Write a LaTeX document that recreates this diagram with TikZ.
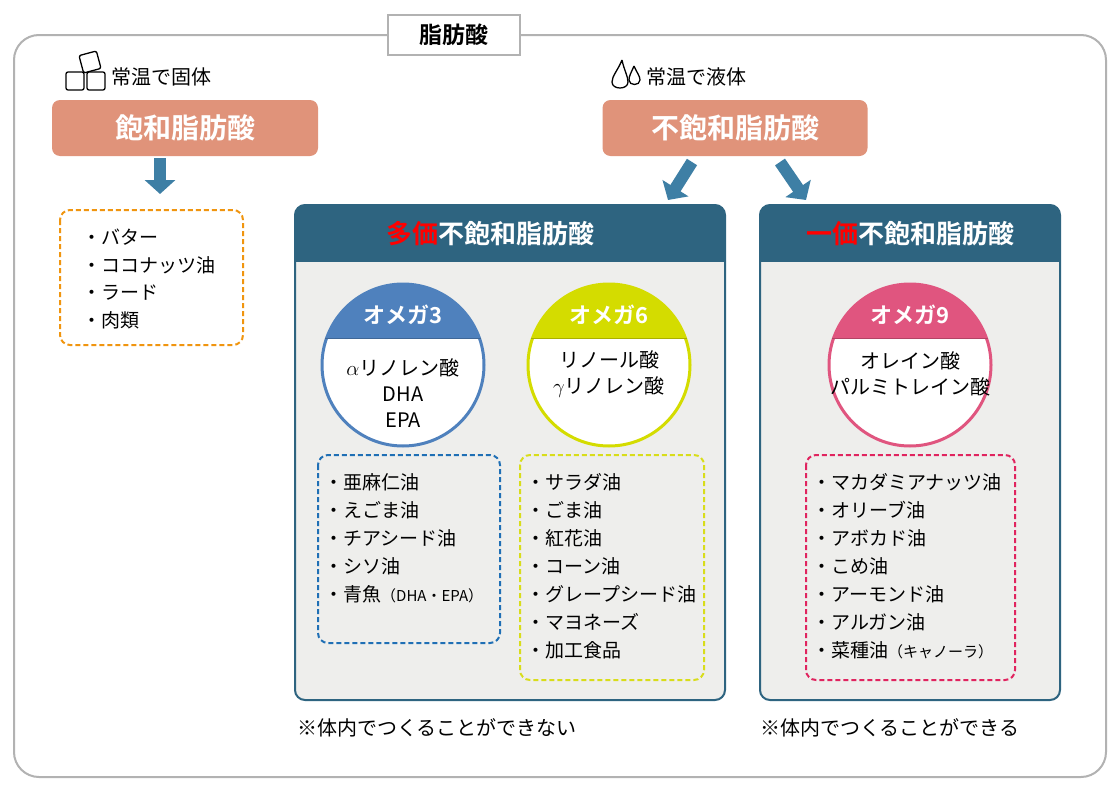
\documentclass[tikz,border=0pt]{standalone}
\usepackage{fontspec}
\setmainfont{Noto Sans CJK JP}
\newfontfamily\jpb{Noto Sans CJK JP Bold}
\usetikzlibrary{arrows.meta}
\definecolor{sal}{HTML}{E0937A}
\definecolor{teal}{HTML}{2E6480}
\definecolor{arr}{HTML}{3E7FA5}
\definecolor{bodyg}{HTML}{EEEEEC}
\definecolor{om3}{HTML}{4F81BD}
\definecolor{om6}{HTML}{D4DC00}
\definecolor{om9}{HTML}{E0557F}
\definecolor{dorange}{HTML}{F0950F}
\definecolor{dblue}{HTML}{1F6FB5}
\definecolor{dyellow}{HTML}{D8DD1A}
\definecolor{dpink}{HTML}{E0245F}
\begin{document}
\begin{tikzpicture}[x=1pt,y=-1pt,
  fs/.style={font=\fontsize{20}{22}\selectfont},
  item/.style={anchor=west,font=\fontsize{19}{22}\selectfont,inner sep=0},
  salbox/.style={fill=sal,rounded corners=8pt,text=white,font=\jpb\fontsize{28}{30}\selectfont},
  blk/.style={-{Triangle[length=14pt,width=30pt]},line width=12pt,arr},
  dbox/.style={dashed,line width=2pt,rounded corners=10pt,dash pattern=on 5pt off 3pt},
  hdr/.style={text=white,font=\jpb\fontsize{26}{28}\selectfont},
  omt/.style={text=white,font=\jpb\fontsize{22}{24}\selectfont},
  omc/.style={font=\fontsize{20}{26}\selectfont,align=center}]
\useasboundingbox (0,0) rectangle (1120,790);
\fill[white] (0,0) rectangle (1120,790);
\draw[gray!60,line width=2pt,rounded corners=25pt] (14,35) rectangle (1106,777);
\node[draw=gray!60,line width=2pt,fill=white,minimum width=132pt,minimum height=40pt,font=\jpb\fontsize{23}{25}\selectfont] (title) at (454,35) {脂肪酸};
% ice icon
\draw[line width=1.3pt,rounded corners=2pt] (66,72) rectangle (84,90);
\draw[line width=1.3pt,rounded corners=2pt] (87,72) rectangle (105,90);
\draw[line width=1.3pt,rounded corners=2pt,rotate around={15:(90,62)}] (81,53) rectangle (99,71);
\node[fs,anchor=west] (solid) at (108,77) {常温で固体};
% drop icon
\draw[line width=1.3pt] (622,60) .. controls (618,70) and (612,76) .. (612,82) .. controls (612,90) and (628,90) .. (628,82) .. controls (628,76) and (624,70) .. (622,60);
\draw[line width=1.3pt] (634,66) .. controls (631,73) and (629,76) .. (629,80) .. controls (629,86) and (640,86) .. (640,80) .. controls (640,76) and (637,73) .. (634,66);
\node[fs,anchor=west] (liquid) at (643,77) {常温で液体};
% main boxes
\node[salbox,minimum width=266pt,minimum height=56pt] (sat) at (185,128) {飽和脂肪酸};
\node[salbox,minimum width=265pt,minimum height=56pt] (unsat) at (735,128) {不飽和脂肪酸};
\coordinate (a1s) at (160,158); \coordinate (a1e) at (160,194);
\draw[blk] (a1s) -- (a1e);
\coordinate (a2s) at (692,162); \coordinate (a2e) at (668,200);
\draw[blk] (a2s) -- (a2e);
\coordinate (a3s) at (780,162); \coordinate (a3e) at (806,200);
\draw[blk] (a3s) -- (a3e);
% saturated list
\draw[dbox,dorange] (60,210) rectangle (243,345);
\node[item] (s1) at (82,237) {・バター};
\node[item] (s2) at (82,265) {・ココナッツ油};
\node[item] (s3) at (82,293) {・ラード};
\node[item] (s4) at (82,320) {・肉類};
% poly box
\draw[teal,line width=2pt,fill=bodyg,rounded corners=10pt] (295,205) rectangle (725,700);
\fill[teal,rounded corners=10pt] (295,205) rectangle (725,240);
\fill[teal] (295,230) rectangle (725,262);
\node[hdr] (polyh) at (490,234) {\textcolor{red}{多価}不飽和脂肪酸};
\draw[teal,line width=2pt,fill=bodyg,rounded corners=10pt] (760,205) rectangle (1060,700);
\fill[teal,rounded corners=10pt] (760,205) rectangle (1060,240);
\fill[teal] (760,230) rectangle (1060,262);
\node[hdr] (monoh) at (910,234) {\textcolor{red}{一価}不飽和脂肪酸};
% circles
\foreach \cx/\col/\nm in {403/om3/c3,609/om6/c6,910/om9/c9}{
  \begin{scope}
    \clip (\cx,365) circle (81);
    \fill[white] (\cx,365) circle (81);
    \fill[\col] (\cx-90,270) rectangle (\cx+90,338);
  \end{scope}
  \draw[\col,line width=3pt] (\cx,365) circle (81);
  \draw[\col!80!black,line width=0.8pt] (\cx-78,338) -- (\cx+78,338);
}
\node[omt] (t3) at (403,315) {オメガ3};
\node[omt] (t6) at (609,315) {オメガ6};
\node[omt] (t9) at (910,315) {オメガ9};
\node[omc] (b3) at (403,393) {$\alpha$リノレン酸\\DHA\\EPA};
\node[omc] (b6) at (609,374) {リノール酸\\$\gamma$リノレン酸};
\node[omc] (b9) at (910,374) {オレイン酸\\パルミトレイン酸};
% lists
\draw[dbox,dblue] (318,455) rectangle (500,643);
\draw[dbox,dyellow] (520,455) rectangle (704,680);
\draw[dbox,dpink] (806,455) rectangle (1015,680);
\foreach \t [count=\i] in {亜麻仁油,えごま油,チアシード油,シソ油}
  \node[item] (p\i) at (324,482+28*\i-28) {・\t};
\node[item] (p5) at (324,594) {・青魚{\fontsize{15}{16}\selectfont（DHA・EPA）}};
\foreach \t [count=\i] in {サラダ油,ごま油,紅花油,コーン油,グレープシード油,マヨネーズ,加工食品}
  \node[item] (q\i) at (526,482+28*\i-28) {・\t};
\foreach \t [count=\i] in {マカダミアナッツ油,オリーブ油,アボカド油,こめ油,アーモンド油,アルガン油}
  \node[item] (m\i) at (812,482+28*\i-28) {・\t};
\node[item] (m7) at (812,650) {・菜種油{\fontsize{15}{16}\selectfont（キャノーラ）}};
\node[fs,anchor=west,inner sep=0] (n1) at (297,728) {※体内でつくることができない};
\node[fs,anchor=west,inner sep=0] (n2) at (760,728) {※体内でつくることができる};
\end{tikzpicture}
\end{document}
